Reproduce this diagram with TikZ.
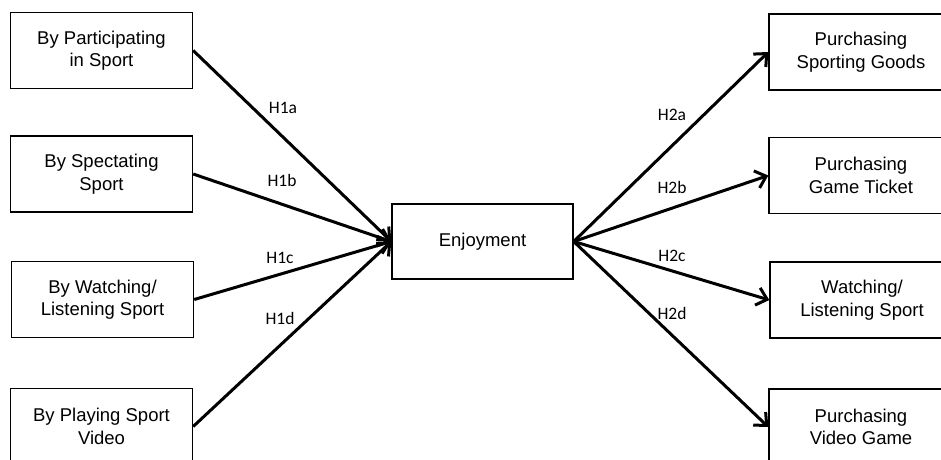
\documentclass[tikz,border=0pt]{standalone}
\usepackage{fontspec}
\setmainfont{Liberation Sans}
\newfontfamily\hypfont{Carlito}
\usetikzlibrary{arrows.meta}

\begin{document}
\begin{tikzpicture}[x=1pt, y=-1pt,
        box/.style={draw, line width=1.4pt, minimum width=182pt, minimum height=76pt,
          align=center, font=\fontsize{18.5}{22.5}\selectfont},
        hyp/.style={font=\hypfont\fontsize{17.5}{20}\selectfont},
        link/.style={line width=3pt, -{Straight Barb[length=10pt, width=18pt]}}]
        \useasboundingbox (0,0) rectangle (941,459);

        % left side
        \node[box] (part) at (101.5,50.5) {By Participating\\in Sport};
        \node[box] (spec) at (101.5,174) {By Spectating\\Sport};
        \node[box] (watch) at (102.5,299.5) {By Watching/\\Listening Sport};
        \node[box] (play) at (101.5,426.5) {By Playing Sport\\Video};

        \node[box, minimum width=181pt, minimum height=75pt] (enjoy) at (482.5,241.5) {Enjoyment};

        % right side
        \node[box, minimum width=184pt] (goods) at (861,52) {Purchasing\\Sporting Goods};
        \node[box, minimum width=184pt] (ticket) at (861,175.5) {Purchasing\\Game Ticket};
        \node[box, minimum width=184pt] (listen) at (862,300) {Watching/\\Listening Sport};
        \node[box, minimum width=184pt] (game) at (861,427) {Purchasing\\Video Game};

        \draw[link] (part.east) -- (enjoy.west);
        \draw[link] (spec.east) -- (enjoy.west);
        \draw[link] (watch.east) -- (enjoy.west);
        \draw[link] (play.east) -- (enjoy.west);

        \draw[link] (enjoy.east) -- (goods.west);
        \draw[link] (enjoy.east) -- (ticket.west);
        \draw[link] (enjoy.east) -- (listen.west);
        \draw[link] (enjoy.east) -- (game.west);

        \node[hyp] (h1a) at (283,108) {H1a};
        \node[hyp] (h1b) at (282,180) {H1b};
        \node[hyp] (h1c) at (280,258) {H1c};
        \node[hyp] (h1d) at (280,318) {H1d};

        \node[hyp] (h2a) at (672,115) {H2a};
        \node[hyp] (h2b) at (672,187) {H2b};
        \node[hyp] (h2c) at (672,256) {H2c};
        \node[hyp] (h2d) at (672,313) {H2d};
      \end{tikzpicture}
\end{document}
